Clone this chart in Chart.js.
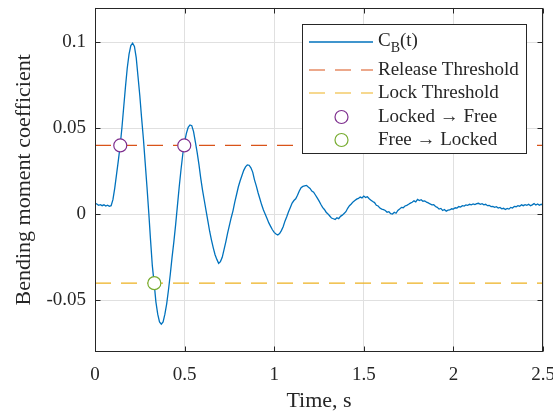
<!DOCTYPE html>
<html>
<head>
<meta charset="utf-8">
<script src="https://cdn.jsdelivr.net/npm/chart.js@4.4.1/dist/chart.umd.min.js"></script>
<style>
  html, body { margin: 0; padding: 0; background: #fff; }
</style>
</head>
<body>
<canvas id="momentChart" width="553" height="419"></canvas>
<script>
var time = [
  0.00, 0.01, 0.02, 0.03, 0.04, 0.05, 0.06, 0.07, 0.08, 0.09,
  0.10, 0.11, 0.12, 0.13, 0.14, 0.15, 0.16, 0.17, 0.18, 0.19,
  0.20, 0.21, 0.22, 0.23, 0.24, 0.25, 0.26, 0.27, 0.28, 0.29,
  0.30, 0.31, 0.32, 0.33, 0.34, 0.35, 0.36, 0.37, 0.38, 0.39,
  0.40, 0.41, 0.42, 0.43, 0.44, 0.45, 0.46, 0.47, 0.48, 0.49,
  0.50, 0.51, 0.52, 0.53, 0.54, 0.55, 0.56, 0.57, 0.58, 0.59,
  0.60, 0.61, 0.62, 0.63, 0.64, 0.65, 0.66, 0.67, 0.68, 0.69,
  0.70, 0.71, 0.72, 0.73, 0.74, 0.75, 0.76, 0.77, 0.78, 0.79,
  0.80, 0.81, 0.82, 0.83, 0.84, 0.85, 0.86, 0.87, 0.88, 0.89,
  0.90, 0.91, 0.92, 0.93, 0.94, 0.95, 0.96, 0.97, 0.98, 0.99,
  1.00, 1.01, 1.02, 1.03, 1.04, 1.05, 1.06, 1.07, 1.08, 1.09,
  1.10, 1.11, 1.12, 1.13, 1.14, 1.15, 1.16, 1.17, 1.18, 1.19,
  1.20, 1.21, 1.22, 1.23, 1.24, 1.25, 1.26, 1.27, 1.28, 1.29,
  1.30, 1.31, 1.32, 1.33, 1.34, 1.35, 1.36, 1.37, 1.38, 1.39,
  1.40, 1.41, 1.42, 1.43, 1.44, 1.45, 1.46, 1.47, 1.48, 1.49,
  1.50, 1.51, 1.52, 1.53, 1.54, 1.55, 1.56, 1.57, 1.58, 1.59,
  1.60, 1.61, 1.62, 1.63, 1.64, 1.65, 1.66, 1.67, 1.68, 1.69,
  1.70, 1.71, 1.72, 1.73, 1.74, 1.75, 1.76, 1.77, 1.78, 1.79,
  1.80, 1.81, 1.82, 1.83, 1.84, 1.85, 1.86, 1.87, 1.88, 1.89,
  1.90, 1.91, 1.92, 1.93, 1.94, 1.95, 1.96, 1.97, 1.98, 1.99,
  2.00, 2.01, 2.02, 2.03, 2.04, 2.05, 2.06, 2.07, 2.08, 2.09,
  2.10, 2.11, 2.12, 2.13, 2.14, 2.15, 2.16, 2.17, 2.18, 2.19,
  2.20, 2.21, 2.22, 2.23, 2.24, 2.25, 2.26, 2.27, 2.28, 2.29,
  2.30, 2.31, 2.32, 2.33, 2.34, 2.35, 2.36, 2.37, 2.38, 2.39,
  2.40, 2.41, 2.42, 2.43, 2.44, 2.45, 2.46, 2.47, 2.48, 2.49,
  2.50
];
var cb = [
  0.0065, 0.0060, 0.0052, 0.0056, 0.0050, 0.0055, 0.0048, 0.0053, 0.0046, 0.0050,
  0.0085, 0.0150, 0.0230, 0.0310, 0.0395, 0.0500, 0.0620, 0.0740, 0.0850, 0.0930,
  0.0980, 0.0994, 0.0975, 0.0910, 0.0800, 0.0690, 0.0560, 0.0440, 0.0300, 0.0160,
  0.0010, -0.0150, -0.0300, -0.0400, -0.0510, -0.0580, -0.0625, -0.0638, -0.0625, -0.0580,
  -0.0520, -0.0440, -0.0350, -0.0250, -0.0160, -0.0060, 0.0050, 0.0160, 0.0260, 0.0350,
  0.0420, 0.0470, 0.0505, 0.0519, 0.0515, 0.0480, 0.0420, 0.0360, 0.0290, 0.0210,
  0.0140, 0.0080, 0.0020, -0.0040, -0.0100, -0.0150, -0.0195, -0.0235, -0.0262, -0.0285,
  -0.0275, -0.0250, -0.0205, -0.0160, -0.0110, -0.0065, -0.0020, 0.0020, 0.0070, 0.0115,
  0.0160, 0.0195, 0.0225, 0.0255, 0.0275, 0.0287, 0.0285, 0.0270, 0.0245, 0.0200,
  0.0165, 0.0125, 0.0090, 0.0055, 0.0025, 0.0000, -0.0025, -0.0050, -0.0070, -0.0090,
  -0.0105, -0.0115, -0.0120, -0.0112, -0.0095, -0.0072, -0.0040, -0.0014, 0.0015, 0.0040,
  0.0065, 0.0080, 0.0090, 0.0110, 0.0135, 0.0155, 0.0162, 0.0165, 0.0168, 0.0158,
  0.0150, 0.0135, 0.0128, 0.0112, 0.0095, 0.0078, 0.0058, 0.0040, 0.0028, 0.0012,
  0.0002, -0.0010, -0.0022, -0.0026, -0.0030, -0.0020, -0.0025, -0.0012, -0.0005, 0.0005,
  0.0015, 0.0035, 0.0050, 0.0060, 0.0072, 0.0080, 0.0088, 0.0092, 0.0100, 0.0095,
  0.0106, 0.0098, 0.0102, 0.0090, 0.0082, 0.0074, 0.0068, 0.0052, 0.0048, 0.0036,
  0.0030, 0.0027, 0.0022, 0.0012, 0.0015, 0.0004, 0.0002, 0.0012, 0.0006, 0.0022,
  0.0030, 0.0040, 0.0038, 0.0048, 0.0052, 0.0058, 0.0065, 0.0070, 0.0078, 0.0072,
  0.0086, 0.0080, 0.0085, 0.0076, 0.0078, 0.0070, 0.0066, 0.0060, 0.0055, 0.0056,
  0.0045, 0.0040, 0.0030, 0.0034, 0.0022, 0.0028, 0.0018, 0.0024, 0.0025, 0.0032,
  0.0030, 0.0038, 0.0036, 0.0045, 0.0042, 0.0050, 0.0048, 0.0054, 0.0052, 0.0058,
  0.0055, 0.0060, 0.0056, 0.0062, 0.0064, 0.0058, 0.0062, 0.0055, 0.0058, 0.0050,
  0.0052, 0.0045, 0.0046, 0.0040, 0.0044, 0.0036, 0.0040, 0.0032, 0.0035, 0.0028,
  0.0034, 0.0030, 0.0040, 0.0036, 0.0046, 0.0044, 0.0050, 0.0047, 0.0055, 0.0050,
  0.0056, 0.0052, 0.0058, 0.0050, 0.0055, 0.0062, 0.0054, 0.0060, 0.0052, 0.0058,
  0.0055
];

var releaseThreshold = 0.04;
var lockThreshold = -0.04;

// switching events
var unlockTimes = [0.141, 0.498];
var unlockValues = [0.04, 0.04];
var lockTimes = [0.331];
var lockValues = [-0.04];

var xTicks = [0, 0.5, 1, 1.5, 2, 2.5];
var yTicks = [-0.05, 0, 0.05, 0.1];

var legendLabels = ['C(t)', 'Release Threshold', 'Lock Threshold', 'Locked \u2192 Free', 'Free \u2192 Locked'];

var serif = "'Liberation Serif', 'Times New Roman', serif";
var axisColor = '#262626';

function pairs(xs, ys) {
    var out = [];
    for (var i = 0; i < xs.length; i++) {
        out.push({ x: xs[i], y: ys[i] });
    }
    return out;
}

// MATLAB-like box with inward ticks
var axisBox = {
    id: 'axisBox',
    afterDatasetsDraw: function (chart) {
        var ctx = chart.ctx;
        var a = chart.chartArea;
        var xs = chart.scales.x;
        var ys = chart.scales.y;
        var l = Math.round(a.left) + 0.5, r = Math.round(a.right) - 0.5;
        var t = Math.round(a.top) + 0.5, b = Math.round(a.bottom) - 0.5;
        ctx.save();
        ctx.strokeStyle = axisColor;
        ctx.lineWidth = 1;
        ctx.strokeRect(l, t, r - l, b - t);
        ctx.beginPath();
        xTicks.forEach(function (v) {
            var px = Math.round(xs.getPixelForValue(v)) + 0.5;
            ctx.moveTo(px, b); ctx.lineTo(px, b - 5);
            ctx.moveTo(px, t); ctx.lineTo(px, t + 5);
        });
        yTicks.forEach(function (v) {
            var py = Math.round(ys.getPixelForValue(v)) + 0.5;
            ctx.moveTo(l, py); ctx.lineTo(l + 5, py);
            ctx.moveTo(r, py); ctx.lineTo(r - 5, py);
        });
        ctx.stroke();
        ctx.restore();
    }
};

// legend box drawn inside the axes, top right
var boxLegend = {
    id: 'boxLegend',
    afterDraw: function (chart) {
        var ctx = chart.ctx;
        var ds = chart.data.datasets;
        var left = 302.5, top = 24.5, w = 224, h = 129;
        var rows = [42, 70, 93, 117, 140];
        ctx.save();
        ctx.fillStyle = '#fff';
        ctx.fillRect(left, top, w, h);
        ctx.strokeStyle = axisColor;
        ctx.lineWidth = 1;
        ctx.strokeRect(left, top, w, h);

        for (var i = 0; i < 5; i++) {
            var d = ds[i];
            var y = rows[i];
            if (i < 3) {
                ctx.beginPath();
                ctx.strokeStyle = d.borderColor;
                ctx.lineWidth = d.borderWidth;
                ctx.setLineDash(d.borderDash || []);
                ctx.moveTo(309, y);
                ctx.lineTo(373, y);
                ctx.stroke();
                ctx.setLineDash([]);
            } else {
                ctx.beginPath();
                ctx.arc(341.5, y, d.pointRadius, 0, Math.PI * 2);
                ctx.fillStyle = '#fff';
                ctx.fill();
                ctx.strokeStyle = d.borderColor;
                ctx.lineWidth = d.pointBorderWidth;
                ctx.stroke();
            }
            ctx.fillStyle = axisColor;
            ctx.textBaseline = 'middle';
            ctx.textAlign = 'left';
            ctx.font = '19px ' + serif;
            if (i === 0) {
                // C with subscript B
                ctx.fillText('C', 378, y - 1);
                var cw = ctx.measureText('C').width;
                ctx.font = '14px ' + serif;
                ctx.fillText('B', 378 + cw, y + 6);
                var bw = ctx.measureText('B').width;
                ctx.font = '19px ' + serif;
                ctx.fillText('(t)', 378 + cw + bw, y - 1);
            } else {
                ctx.fillText(legendLabels[i], 378, y);
            }
        }
        ctx.restore();
    }
};

var ctx = document.getElementById('momentChart').getContext('2d');

var momentChart = new Chart(ctx, {
    type: 'line',
    data: {
        datasets: [
            {
                label: legendLabels[0],
                data: pairs(time, cb),
                borderColor: '#0072BD',
                borderWidth: 1.3,
                pointRadius: 0,
                tension: 0,
                order: 3
            },
            {
                label: legendLabels[1],
                data: pairs([0, 2.5], [releaseThreshold, releaseThreshold]),
                borderColor: '#D95319',
                borderWidth: 1.2,
                borderDash: [16, 10],
                pointRadius: 0,
                order: 2
            },
            {
                label: legendLabels[2],
                data: pairs([0, 2.5], [lockThreshold, lockThreshold]),
                borderColor: '#EDB120',
                borderWidth: 1.2,
                borderDash: [16, 10],
                pointRadius: 0,
                order: 2
            },
            {
                label: legendLabels[3],
                data: pairs(unlockTimes, unlockValues),
                showLine: false,
                borderColor: '#7E2F8E',
                backgroundColor: '#fff',
                pointRadius: 6.5,
                pointBorderWidth: 1.2,
                pointStyle: 'circle',
                order: 0
            },
            {
                label: legendLabels[4],
                data: pairs(lockTimes, lockValues),
                showLine: false,
                borderColor: '#77AC30',
                backgroundColor: '#fff',
                pointRadius: 6.5,
                pointBorderWidth: 1.2,
                pointStyle: 'circle',
                order: 0
            }
        ]
    },
    options: {
        responsive: false,
        animation: false,
        layout: {
            padding: { left: 0, right: 10, top: 7, bottom: 0 }
        },
        scales: {
            x: {
                type: 'linear',
                min: 0,
                max: 2.5,
                afterBuildTicks: function (s) {
                    s.ticks = xTicks.map(function (v) { return { value: v }; });
                },
                afterFit: function (s) {
                    s.height = 67;
                    s.paddingLeft = 0;
                    s.paddingRight = 0;
                },
                ticks: {
                    color: axisColor,
                    padding: 12,
                    maxRotation: 0,
                    autoSkip: false,
                    font: { family: serif, size: 19 },
                    callback: function (v) { return String(v); }
                },
                grid: {
                    color: '#e0e0e0',
                    drawTicks: false
                },
                border: { display: false },
                title: {
                    display: true,
                    text: 'Time, s',
                    color: axisColor,
                    font: { family: serif, size: 22 },
                    padding: { top: 0, bottom: 5 }
                }
            },
            y: {
                min: -0.08,
                max: 0.12,
                afterBuildTicks: function (s) {
                    s.ticks = yTicks.map(function (v) { return { value: v }; });
                },
                afterFit: function (s) {
                    s.width = 95;
                    s.paddingTop = 0;
                    s.paddingBottom = 0;
                },
                ticks: {
                    color: axisColor,
                    padding: 9,
                    autoSkip: false,
                    font: { family: serif, size: 19 },
                    callback: function (v) { return String(Math.round(v * 100) / 100); }
                },
                grid: {
                    color: '#e0e0e0',
                    drawTicks: false
                },
                border: { display: false },
                title: {
                    display: true,
                    text: 'Bending moment coefficient',
                    color: axisColor,
                    font: { family: serif, size: 22 },
                    padding: { top: 11, bottom: 0 }
                }
            }
        },
        plugins: {
            legend: { display: false },
            tooltip: { enabled: false }
        }
    },
    plugins: [axisBox, boxLegend]
});
</script>
</body>
</html>
